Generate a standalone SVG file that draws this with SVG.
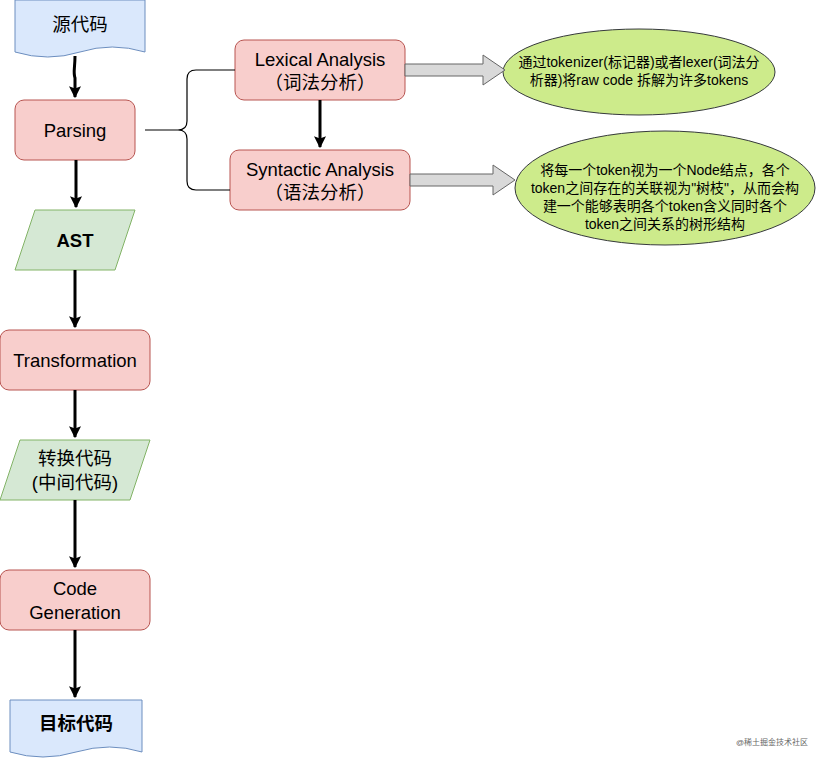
<svg xmlns="http://www.w3.org/2000/svg" width="816" height="761" viewBox="0 0 816 761">
<defs>
<style>
text{font-family:"Liberation Sans","Noto Sans CJK SC",sans-serif;fill:#000;text-anchor:middle}
.t{font-size:18.5px}.s{font-size:14px}
.red{fill:#f8cecc;stroke:#b85450;stroke-width:1}
.blue{fill:#dae8fc;stroke:#6c8ebf;stroke-width:1}
.green{fill:#d5e8d4;stroke:#82b366;stroke-width:1}
.ell{fill:#cdeb8b;stroke:#36393d;stroke-width:1}
.blk{fill:#d9d9d9;stroke:#666;stroke-width:1}
.c{stroke:#000;stroke-width:3;fill:none}
</style>
<marker id="ah" viewBox="0 0 10 10" refX="9" refY="5" markerWidth="4" markerHeight="4" orient="auto"><path d="M0,0 L10,5 L0,10 L2,5 Z" fill="#000"/></marker>
</defs>
<g id="src"><path class="blue" d="M15,0 H145 V52 Q112,42 80,52 Q48,62 15,52 Z"/><text class="t" x="80" y="31">源代码</text></g>
<g id="parsing"><rect class="red" x="15" y="100" width="120" height="60" rx="9"/><text class="t" x="75" y="137">Parsing</text></g>
<g id="ast"><path class="green" d="M35,210 H135 L115,270 H15 Z"/><text class="t" x="75" y="247" font-weight="bold">AST</text></g>
<g id="trans"><rect class="red" x="0" y="330" width="150" height="60" rx="9"/><text class="t" x="75" y="367">Transformation</text></g>
<g id="mid"><path class="green" d="M20,440 H150 L130,500 H0 Z"/><text class="t" x="75" y="465">转换代码</text><text class="t" x="75" y="489">(中间代码)</text></g>
<g id="codegen"><rect class="red" x="0" y="570" width="150" height="60" rx="9"/><text class="t" x="75" y="595">Code</text><text class="t" x="75" y="619">Generation</text></g>
<g id="target"><path class="blue" d="M10,700 H142 V752 Q110,742 76,752 Q43,762 10,752 Z"/><text class="t" x="76" y="730" font-weight="bold">目标代码</text></g>
<g id="lex"><rect class="red" x="235" y="40" width="170" height="60" rx="9"/><text class="t" x="320" y="66">Lexical Analysis</text><text class="t" x="320" y="89">（词法分析）</text></g>
<g id="syn"><rect class="red" x="230" y="150" width="180" height="60" rx="9"/><text class="t" x="320" y="176">Syntactic Analysis</text><text class="t" x="320" y="199">（语法分析）</text></g>
<g id="e1"><ellipse class="ell" cx="639" cy="72" rx="136" ry="43"/><text class="s" x="639" y="67">通过tokenizer(标记器)或者lexer(词法分</text><text class="s" x="639" y="85">析器)将raw code 拆解为许多tokens</text></g>
<g id="e2"><ellipse class="ell" cx="665" cy="188" rx="150" ry="57"/><text class="s" x="665" y="175">将每一个token视为一个Node结点，各个</text><text class="s" x="665" y="193">token之间存在的关联视为"树枝"，从而会构</text><text class="s" x="665" y="211">建一个能够表明各个token含义同时各个</text><text class="s" x="665" y="229">token之间关系的树形结构</text></g>
<g id="connectors">
<path class="c" d="M75,56 C75,68 73,72 75,78 L75,97" marker-end="url(#ah)"/>
<path class="c" d="M76,160 V207" marker-end="url(#ah)"/>
<path class="c" d="M75,270 V327" marker-end="url(#ah)"/>
<path class="c" d="M75,390 V437" marker-end="url(#ah)"/>
<path class="c" d="M75,500 V567" marker-end="url(#ah)"/>
<path class="c" d="M75,630 V697" marker-end="url(#ah)"/>
<path class="c" d="M320,100 V147" marker-end="url(#ah)"/>
<path d="M145,130 H178 Q187,130 187,121 V79 Q187,70 196,70 H235 M178,130 Q187,130 187,139 V181 Q187,190 196,190 H230" fill="none" stroke="#000" stroke-width="1.2"/>
<path class="blk" d="M405,64 H483 V55 L505,70 L483,85 V76 H405 Z"/>
<path class="blk" d="M410,174 H493 V165 L515,180 L493,195 V186 H410 Z"/>
</g>
<text x="772" y="745" style="font-size:8px;fill:#666">@稀土掘金技术社区</text>
</svg>
